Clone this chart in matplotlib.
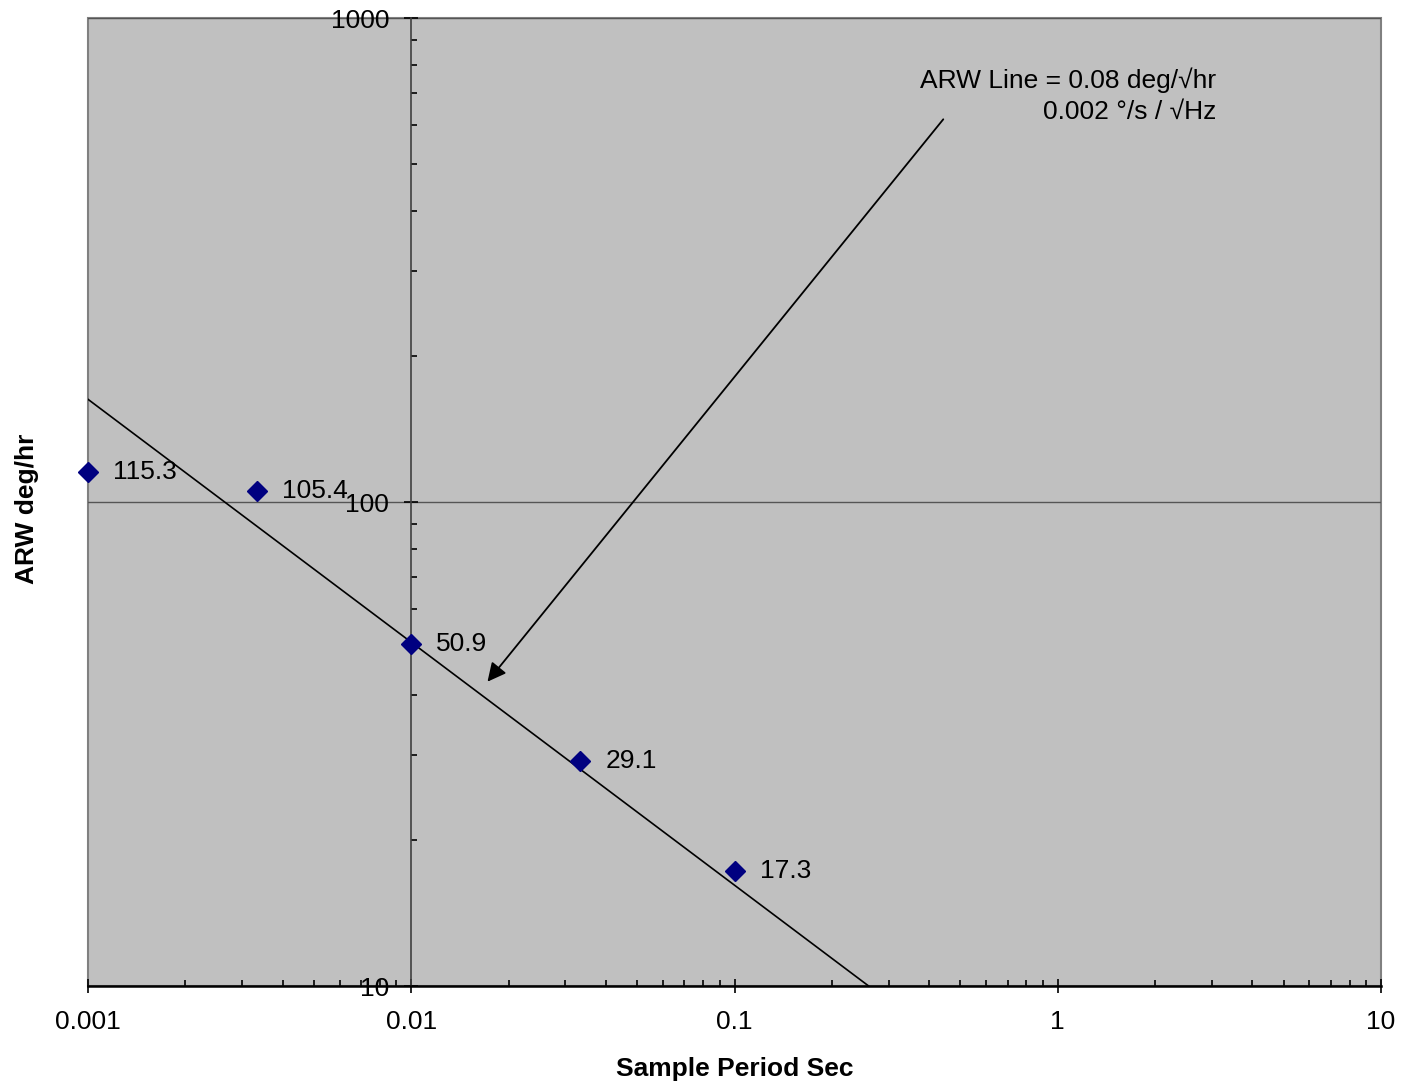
import matplotlib
matplotlib.use("Agg")
import matplotlib.pyplot as plt
from matplotlib.patches import Rectangle
from matplotlib.ticker import FixedLocator, FuncFormatter, LogLocator, NullFormatter

plt.rcParams['font.family'] = ['Liberation Sans', 'DejaVu Sans']

# Sample periods (s) and measured ARW (deg/hr)
periods = [0.001, 1 / 300, 0.01, 1 / 30, 0.1]
arw = [115.3, 105.4, 50.9, 29.1, 17.3]
point_labels = ["115.3", "105.4", "50.9", "29.1", "17.3"]

# ARW reference line end points
line_x = [0.001, 0.26]
line_y = [163, 10]

x_ticks = [0.001, 0.01, 0.1, 1, 10]
y_ticks = [10, 100, 1000]

note_text = "ARW Line = 0.08 deg/\u221ahr\n0.002 \u00b0/s / \u221aHz"
note_pos = (3.1, 692)
arrow_tail = (0.448, 624)
arrow_head = (0.0170, 42.1)

FS = 19

fig = plt.figure(figsize=(14.01, 10.88), dpi=100)
ax = fig.add_axes([88 / 1401, 1 - 986 / 1088, (1381 - 88) / 1401, (986 - 18) / 1088])
ax.set_facecolor('#c0c0c0')
ax.set_xscale('log')
ax.set_yscale('log')
ax.set_xlim(0.001, 10)
ax.set_ylim(10, 1000)

# y axis crosses at 0.01 like the original spreadsheet chart
ax.spines['left'].set_position(('data', 0.01))
ax.spines['left'].set_color('#404040')
ax.spines['left'].set_linewidth(1.2)
ax.spines['bottom'].set_color('black')
ax.spines['bottom'].set_linewidth(1.8)
ax.spines['top'].set_visible(False)
ax.spines['right'].set_visible(False)
ax.add_patch(Rectangle((0, 0), 1, 1, transform=ax.transAxes, fill=False,
                       edgecolor='#808080', lw=1.5, clip_on=False, zorder=0.5))

fmt = FuncFormatter(lambda v, p: f"{v:g}")
ax.xaxis.set_major_locator(FixedLocator(x_ticks))
ax.xaxis.set_major_formatter(fmt)
ax.yaxis.set_major_locator(FixedLocator(y_ticks))
ax.yaxis.set_major_formatter(fmt)
ax.xaxis.set_minor_locator(LogLocator(base=10, subs=range(2, 10), numticks=20))
ax.yaxis.set_minor_locator(LogLocator(base=10, subs=range(2, 10), numticks=20))
ax.xaxis.set_minor_formatter(NullFormatter())
ax.yaxis.set_minor_formatter(NullFormatter())

ax.tick_params(axis='both', which='major', direction='inout', length=10, width=1.2,
               labelsize=FS, colors='black')
ax.tick_params(axis='x', which='major', pad=12)
ax.tick_params(axis='y', which='major', pad=11)
ax.tick_params(axis='both', which='minor', direction='in', length=4.5, width=1.2)

ax.yaxis.grid(True, which='major', color='#555555', lw=1)
ax.set_axisbelow(True)

ax.plot(line_x, line_y, color='black', lw=1.2, zorder=2)
ax.plot(periods, arw, linestyle='none', marker='D', markersize=10,
        color='#000080', clip_on=False, zorder=3)
for px, py, lab in zip(periods, arw, point_labels):
    ax.annotate(lab, (px, py), xytext=(18, 0), textcoords='offset points',
                ha='left', va='center', fontsize=FS, zorder=4)

ax.text(note_pos[0], note_pos[1], note_text, ha='right', va='center',
        multialignment='right', fontsize=FS, linespacing=1.38)
ax.annotate('', xy=arrow_head, xytext=arrow_tail,
            arrowprops=dict(arrowstyle='-|>', color='black', lw=1.3, mutation_scale=28))

fig.text((88 + 1381) / 2 / 1401, 1 - 1069 / 1088, "Sample Period Sec",
         ha='center', va='center', fontsize=FS, fontweight='bold')
fig.text(27 / 1401, 1 - 509 / 1088, "ARW deg/hr", ha='center', va='center',
         rotation=90, fontsize=FS, fontweight='bold')

fig.savefig('out.png', dpi=100)
